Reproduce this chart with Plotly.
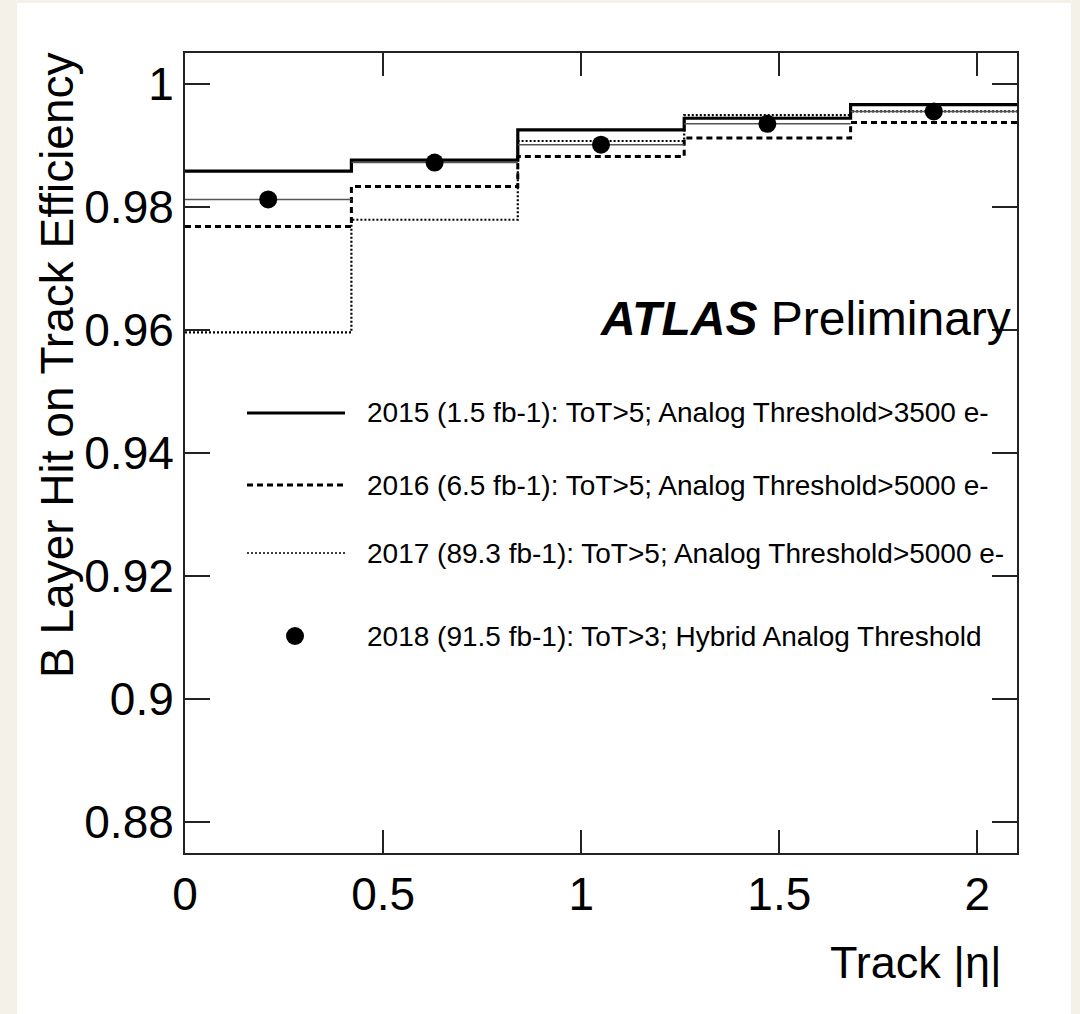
import plotly.graph_objects as go

# ---- data ----
bin_edges = [0.0, 0.42, 0.84, 1.26, 1.68, 2.1]
bin_centers = [0.21, 0.63, 1.05, 1.47, 1.89]
bin_halfwidth = [0.21, 0.21, 0.21, 0.21, 0.21]

eff_2015 = [0.9858, 0.9876, 0.9925, 0.9944, 0.9966]
eff_2016 = [0.9768, 0.9833, 0.9882, 0.9912, 0.9937]
eff_2017 = [0.9596, 0.9779, 0.9907, 0.9949, 0.9955]
eff_2018 = [0.9812, 0.9872, 0.9901, 0.9935, 0.9955]

labels = [
    "2015 (1.5 fb-1): ToT>5; Analog Threshold>3500 e-",
    "2016 (6.5 fb-1): ToT>5; Analog Threshold>5000 e-",
    "2017 (89.3 fb-1): ToT>5; Analog Threshold>5000 e-",
    "2018 (91.5 fb-1): ToT>3; Hybrid Analog Threshold",
]

y_tickvals = [0.88, 0.90, 0.92, 0.94, 0.96, 0.98, 1.0]
y_ticktext = ["0.88", "0.9", "0.92", "0.94", "0.96", "0.98", "1"]
x_tickvals = [0, 0.5, 1, 1.5, 2]
x_ticktext = ["0", "0.5", "1", "1.5", "2"]

FONT = "Liberation Sans, Arial, Helvetica, sans-serif"

# ---- figure geometry (pixels) ----
W, H = 1080, 1014
L, R, T, B = 185, 1017, 53, 853
PW, PH = R - L, B - T


def px(xp):
    return (xp - L) / PW


def py(yp):
    return (B - yp) / PH


def step(vals):
    return vals + [vals[-1]]


fig = go.Figure()

fig.add_trace(go.Scatter(
    x=bin_edges, y=step(eff_2017), mode="lines", line_shape="hv",
    line=dict(color="black", width=2.2, dash="2px,2px"), showlegend=False))
fig.add_trace(go.Scatter(
    x=bin_edges, y=step(eff_2016), mode="lines", line_shape="hv",
    line=dict(color="black", width=3, dash="6px,4px"), showlegend=False))
fig.add_trace(go.Scatter(
    x=bin_edges, y=step(eff_2015), mode="lines", line_shape="hv",
    line=dict(color="black", width=3.2), showlegend=False))
fig.add_trace(go.Scatter(
    x=bin_centers, y=eff_2018, mode="markers",
    marker=dict(color="black", size=18, symbol="circle"),
    error_x=dict(type="data", array=bin_halfwidth, symmetric=True,
                 thickness=1.5, width=0, color="#555555"),
    showlegend=False))

shapes = []
# white panel on beige page
shapes.append(dict(type="rect", xref="paper", yref="paper",
                   x0=px(17), x1=px(1071), y0=py(1030), y1=py(3),
                   fillcolor="white", line=dict(width=0), layer="below"))

# legend samples
rows_y = [413, 485, 553, 636]
dashes = ["solid", "6px,4px", "2px,2px"]
widths = [3.2, 3, 1.6]
for i in range(3):
    shapes.append(dict(type="line", xref="paper", yref="paper",
                       x0=px(247), x1=px(345), y0=py(rows_y[i]), y1=py(rows_y[i]),
                       line=dict(color="black", width=widths[i], dash=dashes[i])))
shapes.append(dict(type="circle", xref="paper", yref="paper",
                   xsizemode="pixel", ysizemode="pixel",
                   xanchor=px(295), yanchor=py(rows_y[3]),
                   x0=-9, x1=9, y0=-9, y1=9,
                   fillcolor="black", line=dict(color="black", width=0)))

annotations = []
for i, lab in enumerate(labels):
    annotations.append(dict(text=lab, xref="paper", yref="paper",
                            x=px(365), y=py(rows_y[i]), xanchor="left", yanchor="middle",
                            showarrow=False, font=dict(family=FONT, size=28, color="black")))

annotations.append(dict(text="<b><i>ATLAS</i></b> Preliminary", xref="paper", yref="paper",
                        x=px(1013), y=py(318), xanchor="right", yanchor="middle",
                        showarrow=False, font=dict(family=FONT, size=48, color="black")))

annotations.append(dict(text="B Layer Hit on Track Efficiency", xref="paper", yref="paper",
                        x=px(57), y=py(365), xanchor="center", yanchor="middle", textangle=-90,
                        showarrow=False, font=dict(family=FONT, size=46, color="black")))

annotations.append(dict(text="Track |η|", xref="paper", yref="paper",
                        x=px(1004), y=py(962), xanchor="right", yanchor="middle",
                        showarrow=False, font=dict(family=FONT, size=45, color="black")))

axis_common = dict(showgrid=False, zeroline=False, showline=True, linecolor="#222222",
                   linewidth=2, mirror="ticks", ticks="inside", tickcolor="#222222",
                   tickwidth=1.5, tickfont=dict(family=FONT, size=46, color="black"))

fig.update_layout(
    width=W, height=H,
    margin=dict(l=L, r=W - R, t=T, b=H - B, pad=0),
    paper_bgcolor="#f4f1e9", plot_bgcolor="white",
    xaxis=dict(range=[0, 2.1], tickvals=x_tickvals, ticktext=x_ticktext, ticklen=23,
               **axis_common),
    yaxis=dict(range=[0.875, 1.005], tickvals=y_tickvals, ticktext=y_ticktext, ticklen=25,
               **axis_common),
    shapes=shapes, annotations=annotations, showlegend=False,
)

fig.write_html("out.html")
